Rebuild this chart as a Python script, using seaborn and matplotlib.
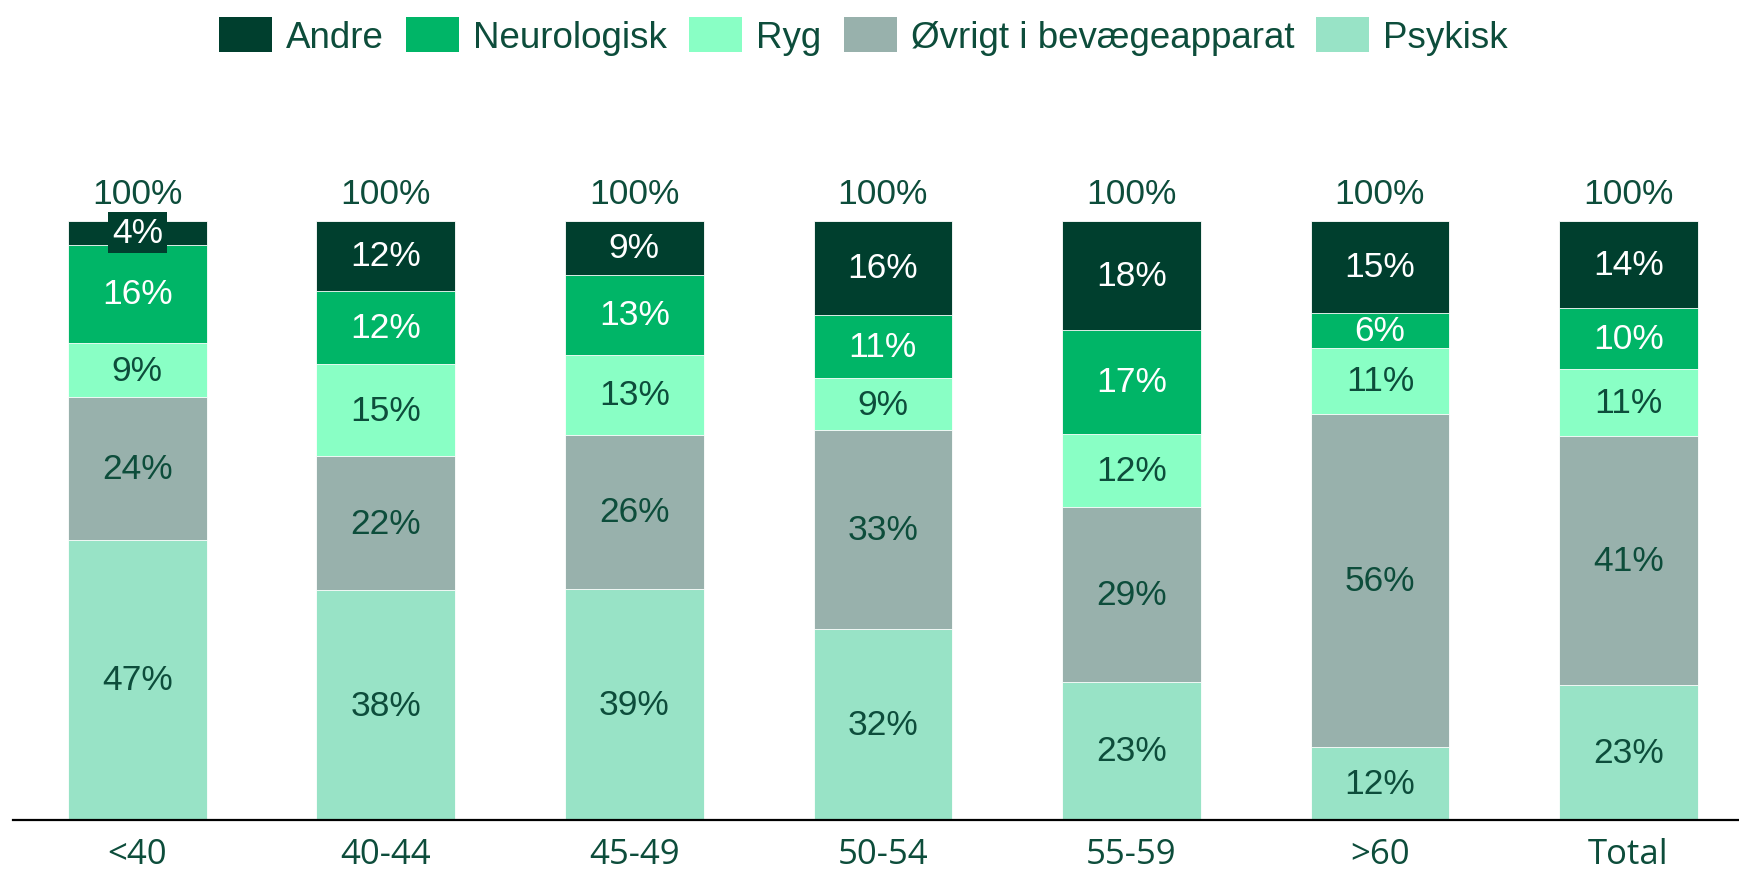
import matplotlib
matplotlib.use("Agg")
import matplotlib.pyplot as plt
import seaborn as sns
import pandas as pd
import numpy as np

# Data (andel i procent)
groups = ["<40", "40-44", "45-49", "50-54", "55-59", ">60", "Total"]
psykisk = [46.8, 38.3, 38.6, 31.9, 23.1, 12.2, 22.6]
oevrigt = [23.7, 22.4, 25.7, 33.1, 29.1, 55.6, 41.4]
ryg = [9.1, 15.4, 13.3, 8.7, 12.2, 10.9, 11.3]
neurologisk = [16.4, 12.2, 13.4, 10.6, 17.4, 5.9, 10.2]
andre = [4.0, 11.7, 8.9, 15.7, 18.2, 15.4, 14.4]
totals = [100, 100, 100, 100, 100, 100, 100]

# stack order bottom -> top
series = [
    ("Psykisk", psykisk, "#98E3C6", "#0D4D3B"),
    ("Øvrigt i bevægeapparat", oevrigt, "#98B1AC", "#0D4D3B"),
    ("Ryg", ryg, "#89FFC5", "#0D4D3B"),
    ("Neurologisk", neurologisk, "#00B567", "white"),
    ("Andre", andre, "#003F2E", "white"),
]
text_dark = "#0D4D3B"

sns.set_style("white")
plt.rcParams["font.family"] = ["Liberation Sans", "DejaVu Sans"]

fig = plt.figure(figsize=(17.39, 8.7), dpi=100)
ax = fig.add_axes([0.0075, 0.0563, 0.9925, 0.8267])

# cumulative sums for stacking
cum = np.cumsum(np.array([s[1] for s in series]), axis=0)
bottoms = np.vstack([np.zeros(len(groups)), cum[:-1]])

# draw from top layer down so the smaller cumulative bars overlay
for i in range(len(series) - 1, -1, -1):
    name, vals, color, _ = series[i]
    df = pd.DataFrame({"group": groups, "cum": cum[i]})
    sns.barplot(data=df, x="group", y="cum", order=groups, color=color,
                width=0.558, saturation=1, label=name, ax=ax,
                edgecolor="white", linewidth=0.6)

handles, labels = ax.get_legend_handles_labels()
if ax.get_legend() is not None:
    ax.get_legend().remove()

# segment labels
for i, (name, vals, color, tcolor) in enumerate(series):
    for j, v in enumerate(vals):
        y = bottoms[i][j] + v / 2
        kw = {}
        if name == "Andre":
            kw["bbox"] = dict(boxstyle="square,pad=0.12", facecolor=color, edgecolor="none")
        ax.text(j, y, f"{v:.0f}%", ha="center", va="center", fontsize=25.5,
                color=tcolor, **kw)

# totals above bars
for j, t in enumerate(totals):
    ax.text(j, 100 + 4.6, f"{t}%", ha="center", va="center", fontsize=25.5,
            color=text_dark)

ax.set_xlim(-0.5, 6.445)
ax.set_ylim(0, 120)
ax.set_xlabel("")
ax.set_ylabel("")
ax.set_yticks([])
ax.tick_params(axis="x", length=0, pad=12)
for lbl in ax.get_xticklabels():
    lbl.set_fontfamily(["Open Sans", "DejaVu Sans"])
    lbl.set_fontsize(25)
    lbl.set_color(text_dark)

for side in ["top", "right", "left"]:
    ax.spines[side].set_visible(False)
ax.spines["bottom"].set_color("black")
ax.spines["bottom"].set_linewidth(1.6)

# legend i toppen
leg = fig.legend(handles, labels, loc="center", bbox_to_anchor=(0.4966, 0.957),
                 ncol=5, frameon=False, fontsize=26.5, handlelength=1.44,
                 handleheight=1.09, handletextpad=0.38, columnspacing=0.6,
                 borderpad=0.2)
for t in leg.get_texts():
    t.set_color(text_dark)
for h in leg.legend_handles:
    h.set_edgecolor("none")

fig.savefig("out.png", dpi=100)
